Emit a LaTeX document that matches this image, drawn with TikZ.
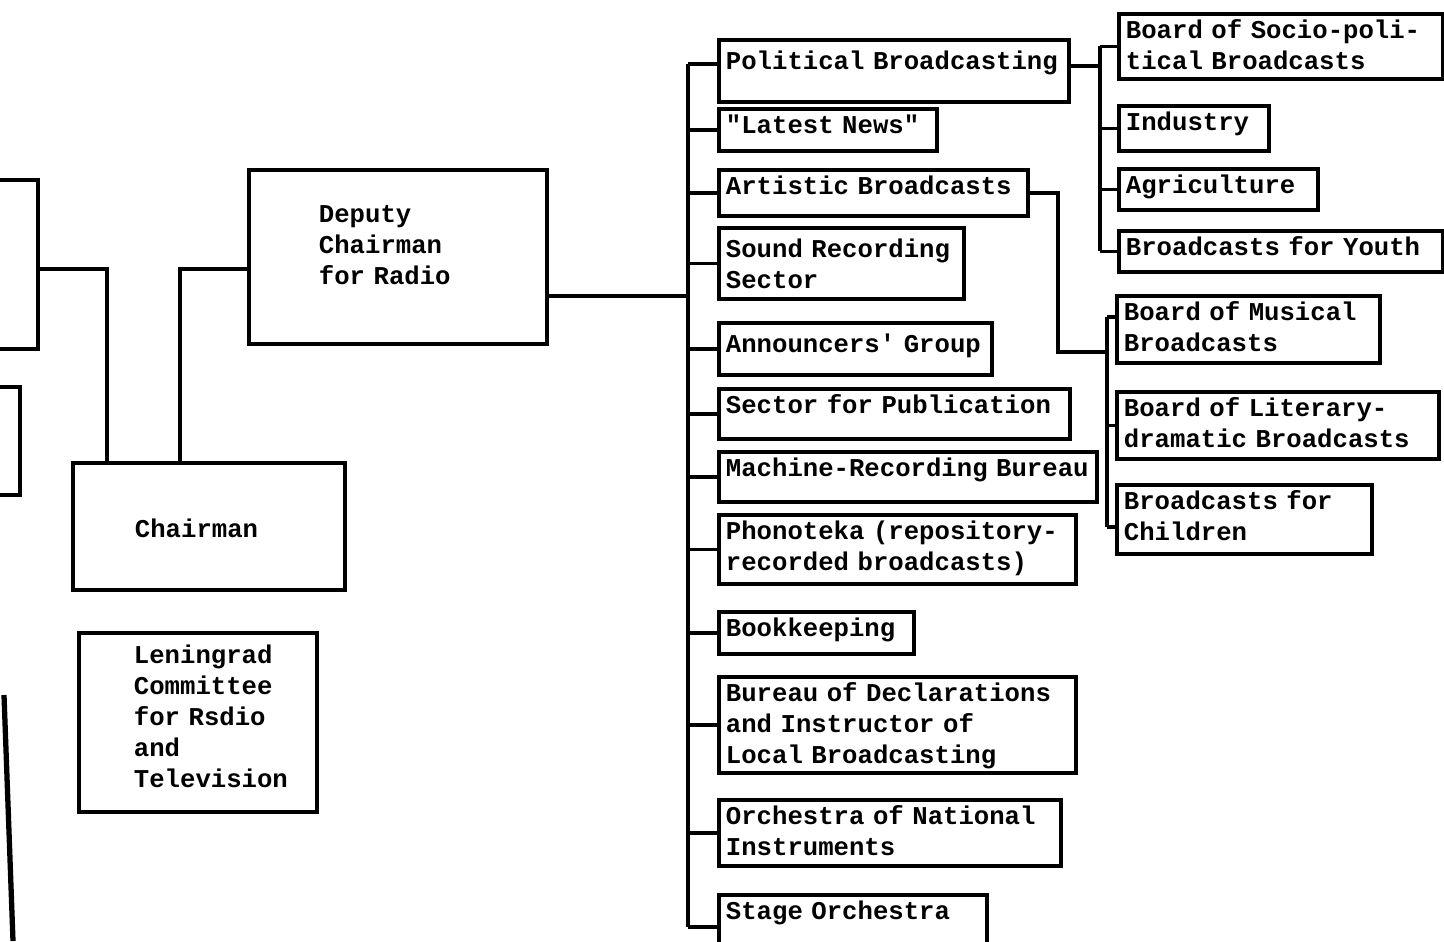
\documentclass[tikz,border=0pt]{standalone}
\usepackage{fontspec}
\newfontfamily\typer{Liberation Mono}[Ligatures=TeXOff, Kerning=Off]
\usetikzlibrary{positioning}

\tikzset{
  unit/.style={draw, line width=1.1pt, anchor=north west, align=left,
    inner xsep=0.07cm, inner ysep=0.07cm, text height=0.18cm,
    font={\typer\bfseries\fontsize{7.3}{8.8}\selectfont}},
  stub/.style={draw, line width=1.1pt, anchor=north west, inner sep=0pt},
  link/.style={line width=1pt},
  lead/.style={execute at begin node={\leftskip=#1}}
}

\begin{document}
\begin{tikzpicture}
    \useasboundingbox (0,0) rectangle (14.44,-9.41);
    % Boxes cut off at the left edge
    \node[stub, minimum width=1.36cm, minimum height=1.69cm] (partA) at (-1.00,-1.78) {};
    \node[stub, minimum width=1.18cm, minimum height=1.08cm] (partB) at (-1.00,-3.85) {};
    \draw[line width=1.5pt] (0.04,-6.95) -- (0.13,-9.41);
    % Leadership
    \node[unit, text width=1.58cm, inner xsep=0.70cm, text height=0.46cm, text depth=1.14cm] (dep) at (2.47,-1.68) {Deputy\\Chairman\\for Radio};
    \node[unit, text width=1.48cm, inner xsep=0.62cm, text height=0.68cm, text depth=0.45cm] (chair) at (0.71,-4.61) {Chairman};
    \node[unit, text width=2.24cm, lead=0.48cm, text height=0.24cm, text depth=1.41cm] (len) at (0.77,-6.31) {Leningrad\\Committee\\for~Rsdio\\and\\Television};
    % Sectors under the deputy chairman
    \node[unit, text width=3.36cm, text height=0.23cm, text depth=0.25cm] (pol) at (7.17,-0.38) {Political~Broadcasting};
    \node[unit, text width=2.04cm, text depth=0.10cm] (news) at (7.17,-1.07) {"Latest~News"};
    \node[unit, text width=2.95cm, text depth=0.14cm] (art) at (7.17,-1.68) {Artistic~Broadcasts};
    \node[unit, text width=2.31cm, text height=0.23cm, text depth=0.34cm] (sound) at (7.17,-2.26) {Sound~Recording\\Sector};
    \node[unit, text width=2.59cm, text height=0.23cm, text depth=0.15cm] (ann) at (7.17,-3.21) {Announcers'~Group};
    \node[unit, text width=3.37cm, text depth=0.18cm] (pub) at (7.17,-3.87) {Sector~for~Publication};
    \node[unit, text width=3.64cm, text depth=0.18cm] (mach) at (7.17,-4.50) {Machine-Recording~Bureau};
    \node[unit, text width=3.43cm, text depth=0.37cm] (phon) at (7.17,-5.13) {Phonoteka~(repository-\\recorded~broadcasts)};
    \node[unit, text width=1.81cm, text depth=0.10cm] (book) at (7.17,-6.10) {Bookkeeping};
    \node[unit, text width=3.43cm, text depth=0.64cm] (bur) at (7.17,-6.75) {Bureau~of~Declarations\\and~Instructor~of\\Local~Broadcasting};
    \node[unit, text width=3.28cm, text depth=0.34cm] (orch) at (7.17,-7.98) {Orchestra~of~National\\Instruments};
    \node[unit, text width=2.54cm, text depth=0.32cm] (stage) at (7.17,-8.93) {Stage~Orchestra};
    % Boards under political broadcasting
    \node[unit, text width=3.10cm, text depth=0.33cm] (socio) at (11.17,-0.12) {Board~of~Socio-poli-\\tical~Broadcasts};
    \node[unit, text width=1.36cm, text depth=0.13cm] (ind) at (11.17,-1.04) {Industry};
    \node[unit, text width=1.85cm, text depth=0.09cm] (agri) at (11.17,-1.67) {Agriculture};
    \node[unit, text width=3.10cm, text depth=0.09cm] (youth) at (11.17,-2.29) {Broadcasts~for~Youth};
    % Boards under artistic broadcasts
    \node[unit, text width=2.49cm, text depth=0.35cm] (mus) at (11.15,-2.94) {Board~of~Musical\\Broadcasts};
    \node[unit, text width=3.08cm, text depth=0.35cm] (lit) at (11.15,-3.90) {Board~of~Literary-\\dramatic~Broadcasts};
    \node[unit, text width=2.41cm, text depth=0.37cm] (kids) at (11.15,-4.83) {Broadcasts~for\\Children};
    % Links on the left
    \draw[link] ([yshift=-0.045cm]partA.east) -| ([xshift=0.36cm]chair.north west);
    \draw[link] ([xshift=1.09cm]chair.north west) |- ([yshift=-0.12cm]dep.west);
    % Trunk
    \coordinate (spine) at (6.88,-2.94);
    \draw[link] ([yshift=0.07cm]spine |- pol.west) -- (spine |- stage.west);
    \draw[link] ([yshift=-0.39cm]dep.east) -- ([yshift=-0.39cm]dep.east -| spine);
    \draw[link] ([yshift=0.07cm]spine |- pol.west) -- ([yshift=0.07cm]pol.west);
    \foreach \n in {news,art,sound,ann,pub,mach,phon,book,bur,orch,stage}
        \draw[link] (spine |- \n.west) -- (\n.west);
    % Political branch
    \coordinate (polside) at (11.00,-0.64);
    \draw[link] ([yshift=0.05cm]pol.east) -- ([yshift=0.05cm]pol.east -| polside);
    \draw[link] (polside |- socio.west) -- (polside |- youth.west);
    \foreach \n in {socio,ind,agri,youth}
        \draw[link] (polside |- \n.west) -- (\n.west);
    % Artistic branch
    \coordinate (artbend) at (10.58,-3.52);
    \coordinate (artside) at (11.07,-3.52);
    \coordinate (artup) at (11.07,-3.17);
    \coordinate (artdown) at (11.07,-5.27);
    \draw[link] (art.east) -| (artbend) -- (artside);
    \draw[link] (artup) -- (artdown);
    \draw[link] (artup) -- (artup -| mus.west);
    \draw[link] (artside |- lit.west) -- (lit.west);
    \draw[link] (artdown) -- (artdown -| kids.west);
\end{tikzpicture}
\end{document}
